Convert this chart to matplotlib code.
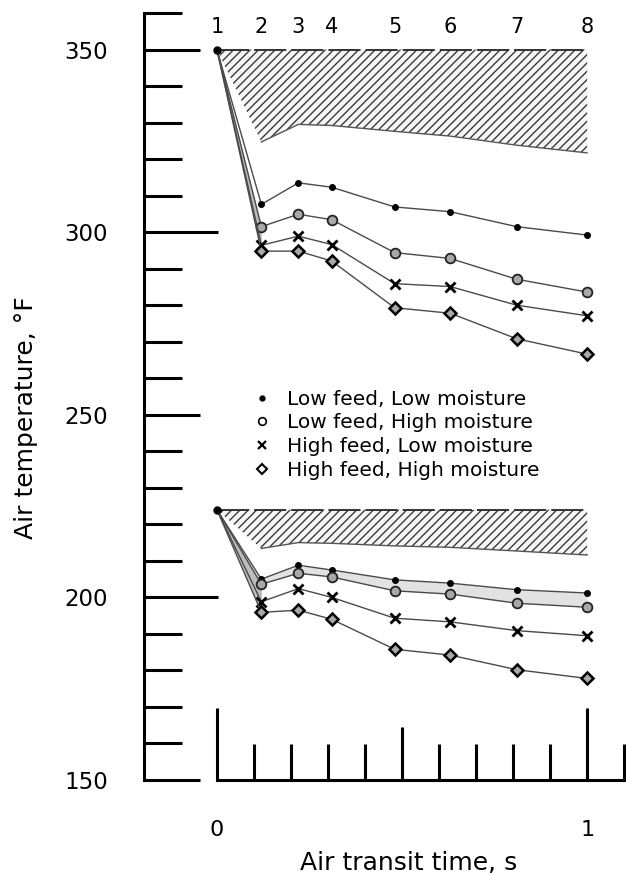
import numpy as np
import matplotlib.pyplot as plt
from matplotlib.lines import Line2D
from matplotlib.ticker import FixedLocator

plt.rcParams['font.family'] = ['DejaVu Sans']
plt.rcParams['hatch.linewidth'] = 1.0

# sampling stations along the dryer and the air transit time to each (s)
stations = ["1", "2", "3", "4", "5", "6", "7", "8"]
transit_time = [0.0, 0.12, 0.22, 0.31, 0.48, 0.63, 0.81, 1.0]

labels = ["Low feed, Low moisture", "Low feed, High moisture",
          "High feed, Low moisture", "High feed, High moisture"]

# runs with 350 F inlet air
hot_low_low = [350, 307.6, 313.5, 312.3, 306.9, 305.6, 301.5, 299.2]
hot_low_high = [350, 301.5, 304.9, 303.4, 294.4, 292.8, 287.1, 283.6]
hot_high_low = [350, 296.4, 298.9, 296.6, 285.9, 285.1, 280.0, 277.1]
hot_high_high = [350, 294.8, 294.8, 292.1, 279.3, 277.8, 270.8, 266.6]
hot_band_top = [350, 350, 350, 350, 350, 350, 350, 350]
hot_band_bottom = [350, 324.7, 329.5, 329.2, 327.6, 326.3, 323.8, 321.7]

# runs with 224 F inlet air
warm_low_low = [224, 205.0, 208.8, 207.5, 204.8, 203.9, 202.1, 201.2]
warm_low_high = [224, 203.6, 206.6, 205.6, 201.8, 200.9, 198.4, 197.3]
warm_high_low = [224, 198.8, 202.4, 200.0, 194.3, 193.3, 190.9, 189.5]
warm_high_high = [224, 195.9, 196.5, 194.0, 185.8, 184.2, 180.2, 177.8]
warm_band_top = [224, 224, 224, 224, 224, 224, 224, 224]
warm_band_bottom = [224, 213.4, 215.0, 214.8, 214.1, 213.7, 212.7, 211.6]

styles = [
    dict(marker='o', ms=4, mfc='k', mec='k'),
    dict(marker='o', ms=7, mfc='#a8a8a8', mec='#222222', mew=1.3),
    dict(marker='x', ms=7, mec='k', mew=2),
    dict(marker='D', ms=6, mfc='#a8a8a8', mec='k', mew=1.8),
]

fig = plt.figure(figsize=(6.26, 8.75), dpi=100)
ax = fig.add_axes([144 / 626, 95 / 875, 482 / 626, 767 / 875])

t = np.array(transit_time)
groups = [
    (hot_band_top, hot_band_bottom, [hot_low_low, hot_low_high, hot_high_low, hot_high_high]),
    (warm_band_top, warm_band_bottom, [warm_low_low, warm_low_high, warm_high_low, warm_high_high]),
]

for top, bottom, series in groups:
    ax.fill_between(t, bottom, top, facecolor='#f6f6f6', edgecolor='#3a3a3a',
                    hatch='////', linewidth=0)
    ax.plot(t[1:], bottom[1:], color='#555555', lw=1)
    ax.plot(t, top, color='#333333', lw=1.4, dashes=(16.5, 2.6))
    # grey shading between the curves leaving the inlet
    ax.fill_between(t[:2], series[3][:2], series[1][:2], color='#bdbdbd', lw=0)
    for s, st in zip(series, styles):
        ax.plot(t, s, color='#4a4a4a', lw=1, markevery=list(range(1, 8)), **st)
    ax.plot(t[0], top[0], 'o', ms=5, color='k')

ax.fill_between(t, warm_low_low, warm_low_high, color='#e2e2e2', lw=0)

for x, s in zip(transit_time, stations):
    ax.text(x, 354.5, s, ha='center', va='baseline', fontsize=15, clip_on=False)

ax.set_xlim(-0.197, 1.105)
ax.set_ylim(150, 360)

ax.spines['top'].set_visible(False)
ax.spines['right'].set_visible(False)
ax.spines['left'].set_linewidth(2.2)
ax.spines['bottom'].set_linewidth(2.2)
ax.spines['bottom'].set_bounds(0, 1.105)

ax.yaxis.set_major_locator(FixedLocator([150, 200, 250, 300, 350]))
ax.yaxis.set_minor_locator(FixedLocator(list(range(160, 361, 10))))
ax.xaxis.set_major_locator(FixedLocator([0, 1]))
ax.xaxis.set_minor_locator(FixedLocator([0.1, 0.2, 0.3, 0.4, 0.5, 0.6, 0.7, 0.8, 0.9, 1.1]))
ax.set_xticklabels(["0", "1"])

ax.tick_params(axis='y', which='major', direction='in', length=40, width=2.2,
               labelsize=16.5, pad=26)
ax.tick_params(axis='y', which='minor', direction='in', length=27, width=2.2)
ax.tick_params(axis='x', which='major', direction='in', length=52, width=2.2,
               labelsize=16, pad=29)
ax.tick_params(axis='x', which='minor', direction='in', length=26, width=2.2)

for loc, tk in zip(ax.yaxis.get_majorticklocs(), ax.yaxis.get_major_ticks()):
    if loc in (200, 300):
        tk.tick1line.set_markersize(53)
for loc, tk in zip(ax.xaxis.get_minorticklocs(), ax.xaxis.get_minor_ticks()):
    if abs(loc - 0.5) < 1e-6:
        tk.tick1line.set_markersize(38)

ax.set_xlabel("Air transit time, s", fontsize=18)
ax.xaxis.set_label_coords(0.548, -0.0926)
ax.set_ylabel("Air temperature, °F", fontsize=18)
ax.yaxis.set_label_coords(-0.22, 0.473)

handles = [
    Line2D([], [], ls='none', marker='o', ms=3.5, color='k'),
    Line2D([], [], ls='none', marker='o', ms=5.5, mfc='white', mec='k', mew=1.2),
    Line2D([], [], ls='none', marker='x', ms=5.5, mec='k', mew=1.6),
    Line2D([], [], ls='none', marker='D', ms=5, mfc='white', mec='k', mew=1.5),
]
ax.legend(handles, labels, loc='upper left', bbox_to_anchor=(0.228, 0.509),
          frameon=False, fontsize=14.5, handlelength=0.8, handletextpad=0.85,
          labelspacing=0.24, borderpad=0, borderaxespad=0)

fig.savefig("out.png", dpi=100)
